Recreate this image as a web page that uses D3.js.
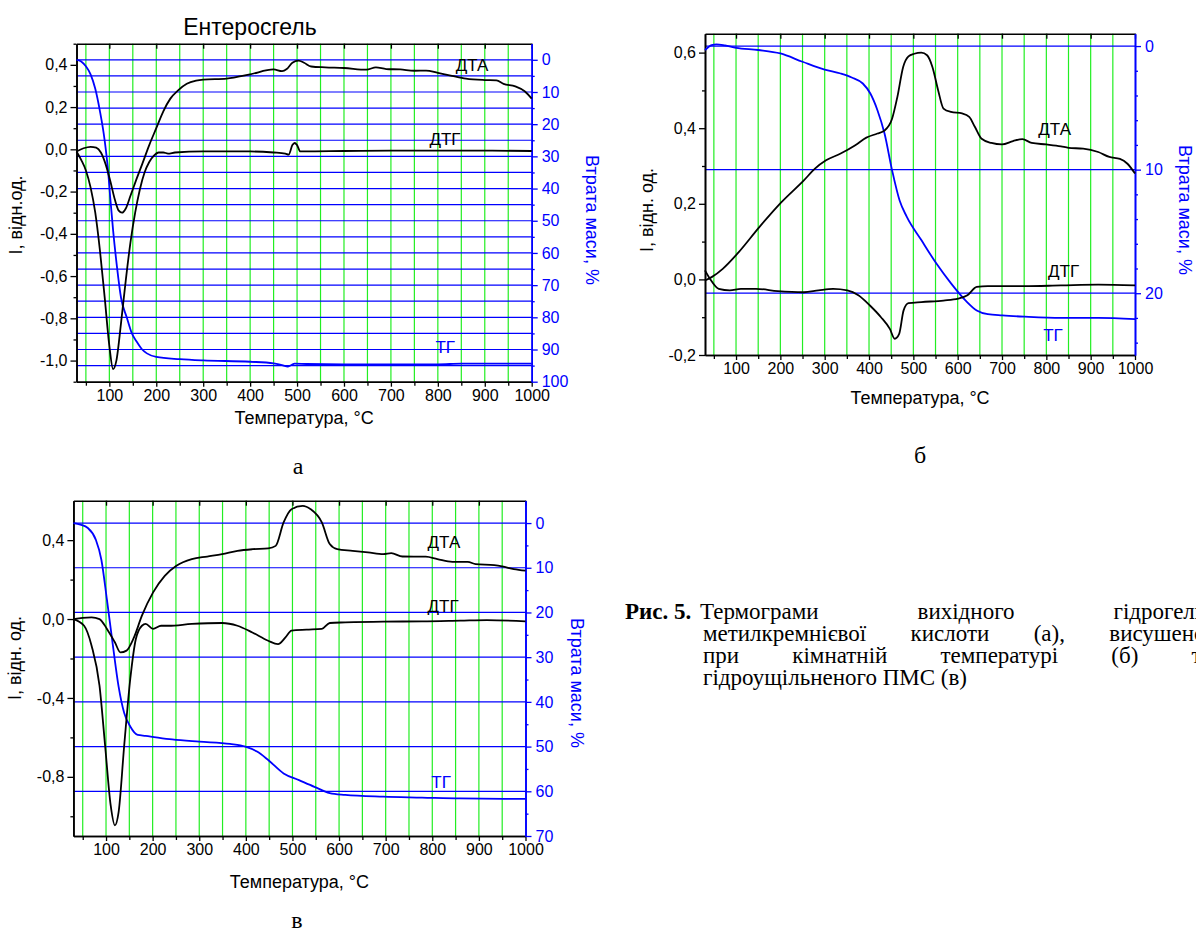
<!DOCTYPE html>
<html>
<head>
<meta charset="utf-8">
<script src="https://cdn.jsdelivr.net/npm/d3@7"></script>
<style>
  body { margin: 0; background: #fff; }
  svg { display: block; }
</style>
</head>
<body>
<svg id="fig" width="1196" height="932"></svg>
<script>
// ---- panel а (Ентеросгель) : [температура, значення]
const dtaA = [[30,-0.01],[45,0.005],[60,0.012],[72,0.008],[82,-0.015],[92,-0.07],[102,-0.15],[112,-0.24],[120,-0.29],[127,-0.30],[135,-0.28],[145,-0.22],[158,-0.14],[170,-0.07],[185,0.02],[200,0.10],[215,0.18],[230,0.24],[247,0.28],[265,0.31],[285,0.325],[300,0.33],[350,0.335],[400,0.355],[450,0.378],[468,0.37],[478,0.38],[490,0.41],[503,0.42],[515,0.41],[530,0.392],[560,0.388],[600,0.385],[648,0.377],[668,0.388],[690,0.38],[720,0.378],[750,0.372],[775,0.373],[800,0.362],[830,0.348],[860,0.335],[900,0.328],[925,0.326],[940,0.31],[965,0.298],[985,0.275],[1000,0.24]];
const dtgA = [[30,-0.01],[40,-0.05],[50,-0.10],[60,-0.18],[70,-0.30],[80,-0.48],[90,-0.70],[100,-0.93],[108,-1.04],[115,-1.0],[125,-0.82],[135,-0.62],[145,-0.44],[155,-0.30],[165,-0.19],[175,-0.11],[185,-0.06],[195,-0.03],[205,-0.015],[215,-0.015],[225,-0.02],[240,-0.015],[300,-0.01],[400,-0.01],[450,-0.015],[475,-0.02],[482,-0.025],[490,0.02],[495,0.03],[500,0.02],[507,-0.01],[515,-0.01],[600,-0.008],[700,-0.006],[800,-0.006],[900,-0.006],[1000,-0.008]];
const tgA = [[30,0],[40,0.5],[50,2],[60,4.5],[70,9],[80,16],[90,25],[97,34],[102,43],[108,53],[116,64],[125,74],[137,80],[148,85],[158,87.5],[170,90],[180,91.2],[200,92.3],[250,93.0],[300,93.4],[400,93.8],[450,94.3],[470,94.9],[480,95.3],[487,94.9],[495,94.4],[520,94.5],[600,94.6],[700,94.6],[800,94.6],[850,94.4],[900,94.4],[1000,94.4]];

// ---- panel б
const dtaB = [[30,-0.003],[45,0.006],[70,0.028],[103,0.068],[153,0.139],[203,0.205],[253,0.262],[278,0.293],[303,0.315],[336,0.333],[369,0.355],[394,0.375],[419,0.386],[435,0.394],[452,0.425],[464,0.483],[477,0.562],[489,0.59],[502,0.597],[518,0.6],[531,0.593],[543,0.562],[556,0.5],[568,0.452],[585,0.443],[610,0.439],[626,0.43],[639,0.403],[654,0.372],[676,0.361],[700,0.357],[725,0.366],[746,0.371],[767,0.361],[800,0.357],[833,0.352],[850,0.348],[883,0.346],[917,0.337],[942,0.324],[966,0.319],[983,0.306],[1000,0.28]];
const dtgB = [[30,0.024],[41,0.002],[61,-0.025],[86,-0.029],[111,-0.025],[145,-0.025],[194,-0.031],[253,-0.034],[286,-0.029],[319,-0.025],[351,-0.029],[376,-0.042],[402,-0.069],[427,-0.1],[447,-0.131],[458,-0.157],[468,-0.144],[478,-0.082],[489,-0.063],[518,-0.06],[568,-0.056],[601,-0.051],[622,-0.042],[643,-0.02],[668,-0.018],[750,-0.018],[833,-0.016],[917,-0.014],[1000,-0.016]];
const tgB = [[30,0.32],[45,-0.08],[56,-0.14],[75,-0.05],[100,0.14],[150,0.32],[200,0.6],[250,1.27],[300,1.9],[336,2.22],[361,2.54],[386,3.03],[403,3.84],[419,5.19],[435,7.08],[452,10.05],[469,12.5],[485,13.8],[518,15.7],[552,17.6],[585,19.2],[618,20.6],[643,21.4],[668,21.7],[701,21.8],[751,21.9],[833,22.0],[917,22.0],[1000,22.1]];

// ---- panel в
const dtaC = [[30,0],[50,0.006],[69,0.008],[86,0],[102,-0.05],[119,-0.118],[131,-0.169],[144,-0.16],[160,-0.093],[177,0.017],[201,0.135],[226,0.219],[251,0.27],[284,0.304],[317,0.317],[349,0.329],[382,0.346],[414,0.354],[448,0.358],[464,0.371],[481,0.49],[498,0.557],[522,0.574],[539,0.557],[563,0.49],[580,0.38],[596,0.354],[629,0.346],[662,0.338],[695,0.329],[712,0.334],[736,0.317],[786,0.316],[811,0.304],[843,0.29],[876,0.29],[893,0.278],[933,0.273],[950,0.267],[975,0.253],[1000,0.245]];
const dtgC = [[30,0],[53,-0.034],[69,-0.135],[86,-0.338],[98,-0.641],[110,-0.945],[119,-1.046],[127,-0.979],[139,-0.641],[152,-0.304],[164,-0.101],[177,-0.034],[185,-0.025],[201,-0.05],[218,-0.034],[234,-0.034],[284,-0.025],[349,-0.02],[382,-0.034],[414,-0.068],[448,-0.11],[469,-0.127],[485,-0.093],[498,-0.059],[530,-0.054],[563,-0.05],[580,-0.02],[613,-0.017],[695,-0.013],[778,-0.012],[860,-0.008],[917,-0.005],[1000,-0.012]];
const tgC = [[30,0],[45,0.37],[61,1.1],[78,3.7],[90,8.2],[102,17.2],[115,27.6],[127,36.6],[139,42.5],[152,45.5],[168,47.4],[185,47.6],[242,48.4],[300,48.9],[366,49.4],[399,50],[424,51.1],[448,53],[481,56],[514,57.5],[547,59],[580,60.4],[613,60.8],[695,61.2],[778,61.4],[860,61.6],[1000,61.7]];

// ---- ticks
const xMajor = d3.range(100, 1001, 100);
const xMinor = d3.range(50, 1000, 100);
const xGrid = d3.range(50, 1000, 50);

// ---- caption lines (justified, the page edge cuts the right margin)
const capLines = [
  {x: 700, y: 619, words: ["Термограми", "вихідного", "гідрогелю"], justify: true},
  {x: 703, y: 641, words: ["метилкремнієвої", "кислоти", "(а),", "висушеної"], justify: true},
  {x: 703, y: 663, words: ["при", "кімнатній", "температурі", "(б)", "та"], justify: true},
  {x: 703, y: 685, words: ["гідроущільненого", "ПМС", "(в)"], justify: false}
];

const svg = d3.select("#fig");
const sans = "'Liberation Sans', Arial, sans-serif";
const serif = "'Liberation Serif', 'Times New Roman', serif";
const BLUE = "#0000ff";
const GREEN = "#22ee22";
const comma = d => (Math.abs(d) < 1e-9 ? 0 : d).toFixed(1).replace(".", ",");
const intFmt = d3.format("d");

function panel(p) {
  const g = svg.append("g");
  const x = d3.scaleLinear().domain([30, 1000]).range([p.x0, p.x1]);
  const yL = d3.scaleLinear().domain(p.left).range([p.y1, p.y0]);
  const yR = d3.scaleLinear().domain(p.right).range([p.y0, p.y1]);

  // grid
  g.append("g").selectAll("line").data(xGrid).join("line")
    .attr("x1", d => x(d)).attr("x2", d => x(d))
    .attr("y1", p.y0).attr("y2", p.y1)
    .attr("stroke", GREEN).attr("stroke-width", 1.2);
  g.append("g").selectAll("line").data(p.hGrid).join("line")
    .attr("x1", p.x0).attr("x2", p.x1)
    .attr("y1", d => yR(d)).attr("y2", d => yR(d))
    .attr("stroke", BLUE).attr("stroke-width", 1.2);

  // axes
  g.append("g").attr("transform", `translate(0,${p.y1})`)
    .call(d3.axisBottom(x).tickValues(xMajor).tickSize(5).tickSizeOuter(0).tickPadding(3).tickFormat(intFmt));
  g.append("g").attr("transform", `translate(0,${p.y1})`)
    .call(d3.axisBottom(x).tickValues(xMinor).tickSize(4).tickSizeOuter(0).tickFormat(""));
  g.append("g").attr("transform", `translate(0,${p.y0})`)
    .call(d3.axisBottom(x).tickValues(xMajor).tickSize(5).tickSizeOuter(0).tickFormat(""));

  g.append("g").attr("transform", `translate(${p.x0},0)`)
    .call(d3.axisLeft(yL).tickValues(p.leftMajor).tickSize(6).tickSizeOuter(0).tickFormat(comma).tickPadding(3));
  g.append("g").attr("transform", `translate(${p.x0},0)`)
    .call(d3.axisLeft(yL).tickValues(p.leftMinor).tickSize(3).tickSizeOuter(0).tickFormat(""));

  g.append("g").attr("transform", `translate(${p.x1},0)`).attr("color", BLUE)
    .call(d3.axisRight(yR).tickValues(p.rightMajor).tickSize(6).tickSizeOuter(0).tickPadding(4).tickFormat(intFmt));
  g.append("g").attr("transform", `translate(${p.x1},0)`).attr("color", BLUE)
    .call(d3.axisRight(yR).tickValues(p.rightMinor).tickSize(3).tickSizeOuter(0).tickFormat(""));

  g.selectAll(".domain").attr("stroke-width", 1.6);
  g.selectAll(".tick line").attr("stroke-width", 1.3);
  g.selectAll(".tick text").attr("font-family", sans).attr("font-size", 16);

  // curves
  const lineL = d3.line().x(d => x(d[0])).y(d => yL(d[1])).curve(d3.curveMonotoneX);
  const lineR = d3.line().x(d => x(d[0])).y(d => yR(d[1])).curve(d3.curveMonotoneX);
  g.append("path").datum(p.tg).attr("d", lineR).attr("fill", "none")
    .attr("stroke", BLUE).attr("stroke-width", 1.8);
  g.append("path").datum(p.dta).attr("d", lineL).attr("fill", "none")
    .attr("stroke", "#000").attr("stroke-width", 1.8);
  g.append("path").datum(p.dtg).attr("d", lineL).attr("fill", "none")
    .attr("stroke", "#000").attr("stroke-width", 1.8);

  // curve names
  const lab = (t, xv, y, c) => g.append("text").attr("x", x(xv)).attr("y", y)
    .attr("font-family", sans).attr("font-size", 17).attr("fill", c).text(t);
  lab("ДТА", p.nDTA[0], yL(p.nDTA[1]), "#000");
  lab("ДТГ", p.nDTG[0], yL(p.nDTG[1]), "#000");
  lab("ТГ", p.nTG[0], yR(p.nTG[1]), BLUE);

  // axis titles
  const mid = (p.x0 + p.x1) / 2;
  g.append("text").attr("x", mid).attr("y", p.xTitleY).attr("text-anchor", "middle")
    .attr("font-family", sans).attr("font-size", 18).text("Температура, °C");
  g.append("text").attr("transform", `translate(${p.lTitle[0]},${p.lTitle[1]}) rotate(-90)`)
    .attr("text-anchor", "middle").attr("dominant-baseline", "middle")
    .attr("font-family", sans).attr("font-size", 18).text(p.lText);
  g.append("text").attr("transform", `translate(${p.rTitle[0]},${p.rTitle[1]}) rotate(90)`)
    .attr("text-anchor", "middle").attr("dominant-baseline", "middle")
    .attr("font-family", sans).attr("font-size", 18).attr("fill", BLUE).text("Втрата маси, %");
  g.append("text").attr("x", p.sub[0]).attr("y", p.sub[1]).attr("text-anchor", "middle")
    .attr("font-family", serif).attr("font-size", 24).text(p.subText);
  return {x, yL, yR};
}

panel({
  x0: 76.5, x1: 531.7, y0: 43.7, y1: 381.7,
  left: [-1.1, 0.5], right: [-5, 100],
  leftMajor: d3.range(-1.0, 0.41, 0.2), leftMinor: d3.range(-1.1, 0.51, 0.2),
  rightMajor: d3.range(0, 101, 10), rightMinor: d3.range(5, 100, 10),
  hGrid: d3.range(0, 96, 5),
  dta: dtaA, dtg: dtgA, tg: tgA,
  nDTA: [838, 0.37], nDTG: [782, 0.02], nTG: [795, 91.1],
  xTitleY: 424, lTitle: [17, 215], lText: "I, відн.од.", rTitle: [591, 220],
  sub: [298, 474], subText: "а"
});
svg.append("text").attr("x", 250).attr("y", 35).attr("text-anchor", "middle")
  .attr("font-family", sans).attr("font-size", 23).text("Ентеросгель");

panel({
  x0: 705, x1: 1135, y0: 33.7, y1: 355,
  left: [-0.2, 0.65], right: [-1, 25],
  leftMajor: [-0.2, 0, 0.2, 0.4, 0.6], leftMinor: [-0.1, 0.1, 0.3, 0.5],
  rightMajor: [0, 10, 20], rightMinor: [2, 4, 6, 8, 12, 14, 16, 18, 22, 24],
  hGrid: [0, 10, 20],
  dta: dtaB, dtg: dtgB, tg: tgB,
  nDTA: [782, 0.382], nDTG: [804, 0.007], nTG: [793, 23.9],
  xTitleY: 404, lTitle: [648, 210], lText: "I, відн. од.", rTitle: [1184, 210],
  sub: [920, 463], subText: "б"
});

panel({
  x0: 73.4, x1: 525.5, y0: 500.7, y1: 836,
  left: [-1.1, 0.6], right: [-5, 70],
  leftMajor: [-0.8, -0.4, 0, 0.4], leftMinor: [-1.0, -0.6, -0.2, 0.2],
  rightMajor: d3.range(0, 71, 10), rightMinor: d3.range(5, 70, 10),
  hGrid: d3.range(0, 61, 10),
  dta: dtaC, dtg: dtgC, tg: tgC,
  nDTA: [790, 0.36], nDTG: [790, 0.037], nTG: [798, 59.3],
  xTitleY: 888, lTitle: [16, 658], lText: "I, відн. од.", rTitle: [576, 683],
  sub: [297, 928], subText: "в"
});

// ---- caption
const capRight = 1212;
const cap = svg.append("g").attr("font-family", serif).attr("font-size", 23);
cap.append("text").attr("x", 625).attr("y", 619).attr("font-weight", "bold").text("Рис. 5.");
capLines.forEach(line => {
  const nodes = line.words.map(w => cap.append("text").attr("y", line.y).text(w));
  const widths = nodes.map(n => n.node().getComputedTextLength());
  const total = d3.sum(widths);
  const gap = line.justify ? (capRight - line.x - total) / (line.words.length - 1) : 23 * 0.25;
  let cx = line.x;
  nodes.forEach((n, i) => { n.attr("x", cx); cx += widths[i] + gap; });
});
</script>
</body>
</html>
